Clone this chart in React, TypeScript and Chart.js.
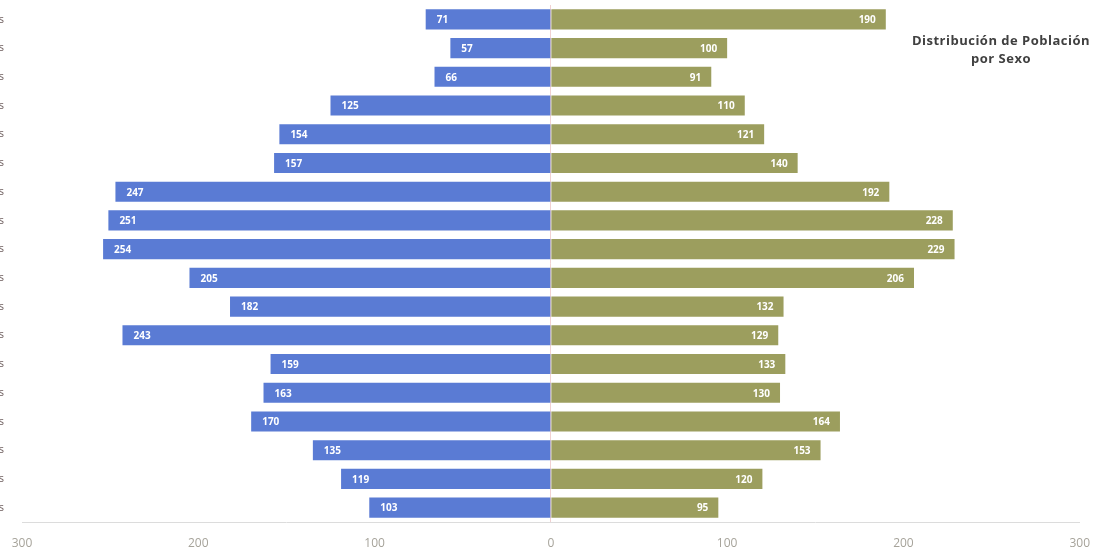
import React, { useEffect, useRef } from "react";
import { Chart, registerables } from "chart.js";

Chart.register(...registerables);

const ageGroups = [
  "85 y más años",
  "80-84 años",
  "75-79 años",
  "70-74 años",
  "65-69 años",
  "60-64 años",
  "55-59 años",
  "50-54 años",
  "45-49 años",
  "40-44 años",
  "35-39 años",
  "30-34 años",
  "25-29 años",
  "20-24 años",
  "15-19 años",
  "10-14 años",
  "5-9 años",
  "0-4 años",
];

const hombres = [71, 57, 66, 125, 154, 157, 247, 251, 254, 205, 182, 243, 159, 163, 170, 135, 119, 103];
const mujeres = [190, 100, 91, 110, 121, 140, 192, 228, 229, 206, 132, 129, 133, 130, 164, 153, 120, 95];

const xTicks = [-300, -200, -100, 0, 100, 200, 300];

const OFFSET = 100;

const barLabels = {
  id: "barLabels",
  afterDatasetsDraw(chart: any) {
    const ctx = chart.ctx;
    ctx.save();
    ctx.font = "bold 10px 'Open Sans', sans-serif";
    ctx.fillStyle = "#ffffff";
    ctx.textBaseline = "middle";
    chart.data.datasets.forEach((ds: any, di: number) => {
      const meta = chart.getDatasetMeta(di);
      meta.data.forEach((el: any, i: number) => {
        const v = Math.abs(ds.data[i]);
        const x = el.x;
        const y = el.y;
        if (ds.data[i] < 0) {
          ctx.textAlign = "left";
          ctx.fillText(String(v), x + 11, y + 1);
        } else {
          ctx.textAlign = "right";
          ctx.fillText(String(v), x - 10, y + 1);
        }
      });
    });
    ctx.restore();
  },
};

export default function App() {
  const ref = useRef<HTMLCanvasElement | null>(null);
  useEffect(() => {
    if (!ref.current) return;
    const chart = new Chart(ref.current, {
      type: "bar",
      data: {
        labels: ageGroups,
        datasets: [
          {
            label: "Hombres",
            data: hombres.map((v) => -v),
            backgroundColor: "#5a7bd4",
            barPercentage: 0.7,
            categoryPercentage: 1,
          },
          {
            label: "Mujeres",
            data: mujeres,
            backgroundColor: "#9c9e5e",
            barPercentage: 0.7,
            categoryPercentage: 1,
          },
        ],
      },
      options: {
        indexAxis: "y",
        animation: false,
        responsive: true,
        maintainAspectRatio: false,
        layout: { padding: { top: 5, right: 23, bottom: 0, left: 0 } },
        plugins: {
          legend: { display: false },
          tooltip: { enabled: false },
          title: { display: false },
        },
        scales: {
          x: {
            stacked: true,
            min: -300,
            max: 300,
            afterBuildTicks: (scale: any) => {
              scale.ticks = xTicks.map((v) => ({ value: v }));
            },
            afterFit: (scale: any) => {
              scale.height = 29;
            },
            ticks: {
              callback: (v: any) => String(Math.abs(Number(v))),
              color: "#a6a39a",
              font: { family: "'Open Sans', sans-serif", size: 12 },
              padding: 14,
              maxRotation: 0,
            },
            grid: {
              drawTicks: false,
              color: (c: any) => (c.tick && c.tick.value === 0 ? "rgba(235,190,190,0.7)" : "rgba(0,0,0,0)"),
              lineWidth: 1,
            },
            border: { display: true, color: "#dcdcdc", width: 1 },
          },
          y: {
            stacked: true,
            afterFit: (scale: any) => {
              scale.width = OFFSET + 22;
              scale.paddingTop = 0;
              scale.paddingBottom = 0;
            },
            ticks: {
              color: "#6a5a5a",
              font: { family: "'Open Sans', sans-serif", size: 11 },
              padding: 18,
            },
            grid: { display: false, drawTicks: false },
            border: { display: false },
          },
        },
      },
      plugins: [barLabels],
    });
    return () => chart.destroy();
  }, []);

  return (
    <div
      style={{
        position: "fixed",
        left: 0,
        top: 0,
        width: 1104,
        height: 551,
        overflow: "hidden",
        background: "#ffffff",
      }}
    >
      <div style={{ position: "absolute", left: -OFFSET, top: 0, width: 1104 + OFFSET, height: 551 }}>
        <canvas ref={ref} />
      </div>
      <div
        style={{
          position: "absolute",
          left: 900,
          top: 31,
          width: 202,
          textAlign: "center",
          fontFamily: "'Open Sans', sans-serif",
          fontWeight: 700,
          fontSize: 13,
          letterSpacing: "0.5px",
          lineHeight: "18px",
          color: "#404040",
          whiteSpace: "nowrap",
        }}
      >
        Distribución de Población
        <br />
        por Sexo
      </div>
    </div>
  );
}
